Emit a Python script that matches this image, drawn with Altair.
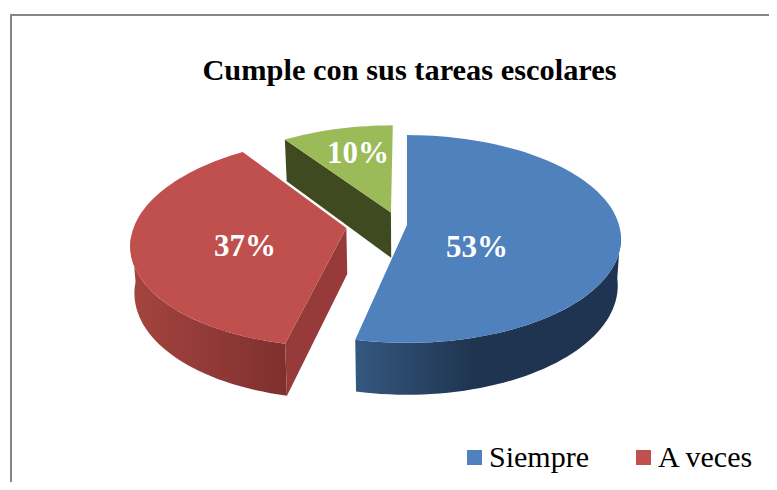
import math
import altair as alt
import pandas as pd

TITLE = "Cumple con sus tareas escolares"
SHARES = [53.4, 36.9, 9.7]
LABELS = ["53%", "37%", "10%"]
TOP_COLORS = ["#4f81bd", "#c0504d", "#9bbb59"]
LEGEND_NAMES = ["Siempre", "A veces"]
LEGEND_COLORS = ["#4f81bd", "#c0504d"]

# page geometry: chart origin sits at the 8 px page margin
X0, X1, Y0, Y1 = 8, 769, 8, 482
CX, CY, W, H, P = 407, 225, 212, 102, 0.1346
EXPLODE = [(0.0, 0.0), (-0.285, 0.029), (-0.077, -0.125)]


def proj(X, Y, low=False):
    f = 1 / (1 - P * Y)
    dx, dy = W * X * f, H * Y * f
    if low:
        return CX + 0.985 * dx, CY + 46 + 1.05 * dy
    return CX + dx, CY + dy


def rim(slice_i, deg, low=False):
    ox, oy = EXPLODE[slice_i]
    t = math.radians(deg)
    return proj(ox + math.sin(t), oy - math.cos(t), low)


def apex(slice_i, low=False):
    return proj(*EXPLODE[slice_i], low)


def arc(slice_i, a, b, low=False):
    n = max(2, int(abs(b - a) / 2))
    return [rim(slice_i, a + (b - a) * k / n, low) for k in range(n + 1)]


bounds = [0]
for s in SHARES:
    bounds.append(bounds[-1] + s * 3.6)

sx = alt.Scale(domain=[X0, X1], range=[0, X1 - X0], nice=False, zero=False)
sy = alt.Scale(domain=[Y0, Y1], range=[0, Y1 - Y0], nice=False, zero=False)
ex = dict(x=alt.X("x:Q", scale=sx, axis=None), y=alt.Y("y:Q", scale=sy, axis=None))


def poly(points, fill):
    df = pd.DataFrame(points, columns=["x", "y"]).assign(i=range(len(points)))
    return alt.Chart(df).mark_line(
        interpolate="linear-closed", fill=fill, stroke=None, strokeWidth=0
    ).encode(order=alt.Order("i:Q"), **ex)


def grad(stops):
    return alt.LinearGradient(
        gradient="linear", x1=0, y1=0, x2=1, y2=0,
        stops=[alt.GradientStop(offset=o, color=c) for o, c in stops],
    )


layers = []
# rules of the frame
frame_top = pd.DataFrame({"x": [10], "x2": [X1], "y": [15]})
frame_left = pd.DataFrame({"x": [11], "y": [14], "y2": [Y1]})
layers.append(alt.Chart(frame_top).mark_rule(color="#868686", strokeWidth=2).encode(
    x=alt.X("x:Q", scale=sx, axis=None), x2="x2:Q", y=alt.Y("y:Q", scale=sy, axis=None)))
layers.append(alt.Chart(frame_left).mark_rule(color="#868686", strokeWidth=2).encode(
    x=alt.X("x:Q", scale=sx, axis=None), y=alt.Y("y:Q", scale=sy, axis=None), y2="y2:Q"))

# green slice
layers.append(poly([apex(2), rim(2, bounds[2]), rim(2, bounds[2], True), apex(2, True)], "#3f4a20"))
layers.append(poly([apex(2)] + arc(2, bounds[2], bounds[3]), TOP_COLORS[2]))
# red slice
layers.append(poly(arc(1, bounds[1], 266) + arc(1, 266, bounds[1], True),
                   grad([(0, "#a5443f"), (1, "#7e302f")])))
layers.append(poly([apex(1), rim(1, bounds[1]), rim(1, bounds[1], True), apex(1, True)], "#963b39"))
layers.append(poly([apex(1)] + arc(1, bounds[1], bounds[2]), TOP_COLORS[1]))
# blue slice
layers.append(poly(arc(0, 94, bounds[1]) + arc(0, bounds[1], 94, True),
                   grad([(0, "#35587f"), (0.45, "#1f3450"), (1, "#1f3450")])))
layers.append(poly([apex(0)] + arc(0, bounds[0], bounds[1]), TOP_COLORS[0]))

# percent labels
label_df = pd.DataFrame({"x": [477, 245, 358], "y": [257, 256, 163], "t": LABELS})
layers.append(alt.Chart(label_df).mark_text(
    font="Liberation Serif", fontWeight="bold", fontSize=31, color="white",
    align="center", baseline="alphabetic",
).encode(text="t:N", **ex))
# title
title_df = pd.DataFrame({"x": [409.5], "y": [80], "t": [TITLE]})
layers.append(alt.Chart(title_df).mark_text(
    font="Liberation Serif", fontWeight="bold", fontSize=30.4, color="black",
    align="center", baseline="alphabetic",
).encode(text="t:N", **ex))
# legend
leg_df = pd.DataFrame({"x": [474.5, 643.5], "y": [457.5, 457.5], "c": LEGEND_COLORS})
layers.append(alt.Chart(leg_df).mark_square(size=225, opacity=1, strokeWidth=0).encode(
    color=alt.Color("c:N", scale=None), **ex))
leg_txt = pd.DataFrame({"x": [489, 658], "y": [467, 467], "t": LEGEND_NAMES})
layers.append(alt.Chart(leg_txt).mark_text(
    font="Liberation Serif", fontSize=30, color="black", align="left", baseline="alphabetic",
).encode(text="t:N", **ex))

chart = alt.layer(*layers).properties(
    width=X1 - X0, height=Y1 - Y0, padding=0,
    autosize=alt.AutoSizeParams(type="none"),
).configure_view(stroke=None)

chart.save("out.html", embed_options={"renderer": "svg", "actions": False})
